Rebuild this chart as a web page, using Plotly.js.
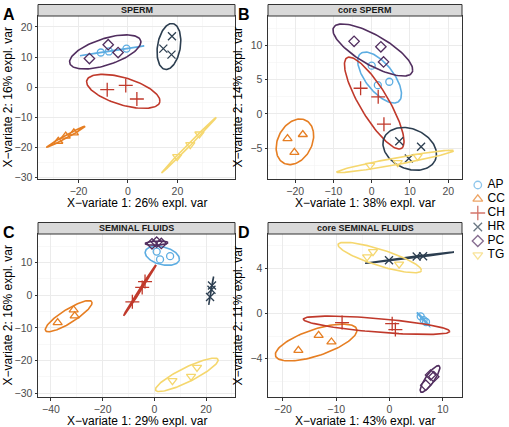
<!DOCTYPE html>
<html><head><meta charset="utf-8">
<script src="https://cdn.plot.ly/plotly-3.0.1.min.js"></script>
<style>html,body{margin:0;padding:0;background:#fff}</style>
</head><body><div id="chart" style="width:509px;height:427px"></div>
<script>
// ---------- data ----------
const categories = ['AP','CC','CH','HR','PC','TG'];
const sampleGroup = ['AP','AP','AP','CC','CC','CC','CH','CH','CH','HR','HR','HR','PC','PC','PC','TG','TG','TG'];

const panelTitles = ['SPERM','core SPERM','SEMINAL FLUIDS','core SEMINAL FLUIDS'];
const panelLetters = ['A','B','C','D'];
const xTitles = ['X\u2212variate 1: 26% expl. var','X\u2212variate 1: 38% expl. var','X\u2212variate 1: 29% expl. var','X\u2212variate 1: 43% expl. var'];
const yTitles = ['X\u2212variate 2: 16% expl. var','X\u2212variate 2: 14% expl. var','X\u2212variate 2: 16% expl. var','X\u2212variate 2: 11% expl. var'];

const xTickVals = [[-20,0,20],[-20,-10,0,10,20],[-40,-20,0,20],[-20,-10,0,10]];
const yTickVals = [[-30,-20,-10,0,10,20],[-5,0,5,10],[-30,-20,-10,0,10],[-4,0,4]];

const spermX = [-11.0,-7.7,-0.6, -28.2,-25.2,-21.9, -8.4,-0.9,3.6, 17.8,14.3,17.6, -15.6,-8.0,-4.0, 19.9,25.2,28.9];
const spermY = [11.5,11.85,12.8, -17.9,-16.2,-15.1, -0.8,0.6,-3.9, 16.9,12.8,10.8, 9.5,14.1,11.5, -23.0,-19.0,-15.5];

const coreSpermX = [0.0,1.6,4.6, -22.0,-18.0,-20.2, -2.9,1.7,3.2, 7.2,9.7,12.9, -4.6,2.4,3.1, -0.4,6.8,12.0];
const coreSpermY = [7.05,4.2,4.7, -3.6,-3.0,-5.6, 3.75,2.5,-1.5, -4.0,-6.5,-4.8, 10.6,9.8,7.6, -7.5,-7.1,-6.2];

const fluidX = [0.9,2.2,6.1, -37.4,-31.2,-30.8, -8.5,-4.7,-3.6, 21.55,22.1,22.3, -0.9,0.9,2.7, 7.0,14.2,16.5];
const fluidY = [13.4,11.0,12.0, -8.4,-4.5,-6.3, -2.0,2.4,4.2, -0.5,1.7,3.0, 15.8,16.3,15.9, -26.2,-24.9,-22.1];

const coreFluidX = [5.85,6.4,6.85, -17.1,-13.3,-10.9, -8.9,0.5,1.1, -0.1,5.1,6.3, 6.8,7.7,8.3, -4.2,-3.1,1.8];
const coreFluidY = [-0.25,-0.58,-0.75, -3.26,-1.93,-2.52, -0.8,-0.9,-1.42, 4.72,5.06,5.08, -6.35,-5.45,-5.6, 5.03,5.48,4.38];

// ---------- styles ----------
const groupColors = ['#5DADE2','#E67E22','#C0392B','#2C3E50','#512E5F','#F5D76E'];
const groupSymbols = ['circle-open','triangle-up-open','cross-thin-open','x-thin-open','diamond-open','triangle-down-open'];
const groupSizes = [7,8,10,8,8,8];

const W = 509, H = 427;
const px = v => v / W;
const py = v => 1 - v / H;

// panel boxes in pixels [left,right,top,bottom]
const boxes = [[38,235,16,179],[268,462,16,179],[38,235,234,397],[268,462,234,397]];
const xRanges = [[-36.4,43.3],[-27.1,23.6],[-45.0,31.2],[-22.8,13.6]];
const yRanges = [[-30.4,23.6],[-9.5,14.3],[-31.2,18.8],[-7.4,7.05]];
const titleOffsets = [24,24,23.5,23.5];
const panelX = [spermX, coreSpermX, fluidX, coreFluidX];
const panelY = [spermY, coreSpermY, fluidY, coreFluidY];

function minorOf(v){
  const d = v[1]-v[0], out=[];
  const ext = [v[0]-d].concat(v, [v[v.length-1]+d]);
  for(let i=0;i<ext.length-1;i++) out.push((ext[i]+ext[i+1])/2);
  return out;
}

const tEll = Math.sqrt(-2*Math.log(1-0.95)); // sqrt(qchisq(0.95,2))
function ellipse(xs, ys){
  const n = xs.length;
  const mx = xs.reduce((a,b)=>a+b,0)/n, my = ys.reduce((a,b)=>a+b,0)/n;
  let sxx=0,syy=0,sxy=0;
  for(let i=0;i<n;i++){ sxx+=(xs[i]-mx)**2; syy+=(ys[i]-my)**2; sxy+=(xs[i]-mx)*(ys[i]-my); }
  sxx/=(n-1); syy/=(n-1); sxy/=(n-1);
  const tr=sxx+syy, det=sxx*syy-sxy*sxy;
  const disc=Math.sqrt(Math.max(tr*tr/4-det,0));
  const l1=tr/2+disc, l2=Math.max(tr/2-disc,0);
  const th=0.5*Math.atan2(2*sxy, sxx-syy);
  const a=tEll*Math.sqrt(l1), b=tEll*Math.sqrt(l2);
  const ex=[], ey=[];
  for(let k=0;k<=120;k++){
    const ph=2*Math.PI*k/120;
    ex.push(mx + a*Math.cos(ph)*Math.cos(th) - b*Math.sin(ph)*Math.sin(th));
    ey.push(my + a*Math.cos(ph)*Math.sin(th) + b*Math.sin(ph)*Math.cos(th));
  }
  return [ex,ey];
}

const FONT = 'Liberation Sans, Arial, sans-serif';
const traces = [];
const layout = {
  width: W, height: H, margin:{l:0,r:0,t:0,b:0},
  paper_bgcolor:'#ffffff', plot_bgcolor:'#ffffff', showlegend:false,
  font:{family:FONT, color:'#000'},
  shapes:[], annotations:[]
};

for(let p=0;p<4;p++){
  const sfx = p===0 ? '' : String(p+1);
  const [l,r,t,b] = boxes[p];
  const axCommon = {
    showline:true, mirror:true, linecolor:'#333333', linewidth:1,
    ticks:'outside', ticklen:2.5, tickcolor:'#333333', tickwidth:1,
    tickfont:{size:10.5, color:'#4D4D4D', family:FONT},
    showgrid:true, gridcolor:'#EBEBEB', gridwidth:1, zeroline:false,
    fixedrange:true, tickmode:'array'
  };
  layout['xaxis'+sfx] = Object.assign({}, axCommon, {
    domain:[px(l),px(r)], range:xRanges[p], tickvals:xTickVals[p],
    anchor:'y'+sfx,
    minor:{showgrid:true, gridcolor:'#F3F3F3', gridwidth:0.6, tickvals:minorOf(xTickVals[p]), ticks:''}
  });
  layout['yaxis'+sfx] = Object.assign({}, axCommon, {
    domain:[py(b),py(t)], range:yRanges[p], tickvals:yTickVals[p],
    anchor:'x'+sfx,
    minor:{showgrid:true, gridcolor:'#F3F3F3', gridwidth:0.6, tickvals:minorOf(yTickVals[p]), ticks:''}
  });
  // strip
  layout.shapes.push({type:'rect', xref:'paper', yref:'paper',
    x0:px(l), x1:px(r), y0:py(t), y1:py(t-11.5),
    fillcolor:'#D9D9D9', line:{color:'#333333', width:1}});
  layout.annotations.push({xref:'paper', yref:'paper', x:px((l+r)/2), y:py(t-5.75),
    text:'<b>'+panelTitles[p]+'</b>', showarrow:false, xanchor:'center', yanchor:'middle',
    font:{size:9, color:'#1A1A1A'}});
  // panel letter
  layout.annotations.push({xref:'paper', yref:'paper', x:px(l===38?1:236), y:py(t-12.5),
    text:'<b>'+panelLetters[p]+'</b>', showarrow:false, xanchor:'left', yanchor:'top',
    font:{size:16, color:'#000'}});
  // axis titles
  layout.annotations.push({xref:'paper', yref:'paper', x:px((l+r)/2), y:py(b+titleOffsets[p]),
    text:xTitles[p], showarrow:false, xanchor:'center', yanchor:'middle',
    font:{size:12, color:'#000'}});
  layout.annotations.push({xref:'paper', yref:'paper', x:px(l-31), y:py((t+b)/2),
    text:yTitles[p], showarrow:false, xanchor:'center', yanchor:'middle', textangle:-90,
    font:{size:12, color:'#000'}});

  const xs = panelX[p], ys = panelY[p];
  categories.forEach((g,gi)=>{
    const gx=[], gy=[];
    sampleGroup.forEach((s,i)=>{ if(s===g){ gx.push(xs[i]); gy.push(ys[i]); } });
    const [ex,ey] = ellipse(gx,gy);
    traces.push({type:'scatter', mode:'lines', x:ex, y:ey, xaxis:'x'+sfx, yaxis:'y'+sfx,
      line:{color:groupColors[gi], width:1.6}, hoverinfo:'skip'});
    traces.push({type:'scatter', mode:'markers', x:gx, y:gy, xaxis:'x'+sfx, yaxis:'y'+sfx,
      marker:{symbol:groupSymbols[gi], color:groupColors[gi], size:groupSizes[gi],
        line:{width:1.3, color:groupColors[gi]}}, name:g});
  });
}

// legend drawn on its own axis from the categories array
layout.xaxis5 = {domain:[px(470),px(509)], range:[0,1], visible:false, fixedrange:true, anchor:'y5'};
layout.yaxis5 = {domain:[py(262),py(178)], range:[5.5,-0.5], visible:false, fixedrange:true, anchor:'x5'};
traces.push({type:'scatter', mode:'markers', xaxis:'x5', yaxis:'y5',
  x:categories.map(()=>0.2), y:categories.map((c,i)=>i), cliponaxis:false,
  marker:{symbol:groupSymbols, color:groupColors, size:groupSizes.map(s=>s+0.5),
    line:{width:1.3, color:groupColors}}, hoverinfo:'skip'});
traces.push({type:'scatter', mode:'text', xaxis:'x5', yaxis:'y5',
  x:categories.map(()=>0.45), y:categories.map((c,i)=>i), text:categories,
  textposition:'middle right', cliponaxis:false,
  textfont:{size:12, color:'#000', family:FONT}, hoverinfo:'skip'});

Plotly.newPlot('chart', traces, layout, {staticPlot:true, displayModeBar:false});
</script></body></html>
